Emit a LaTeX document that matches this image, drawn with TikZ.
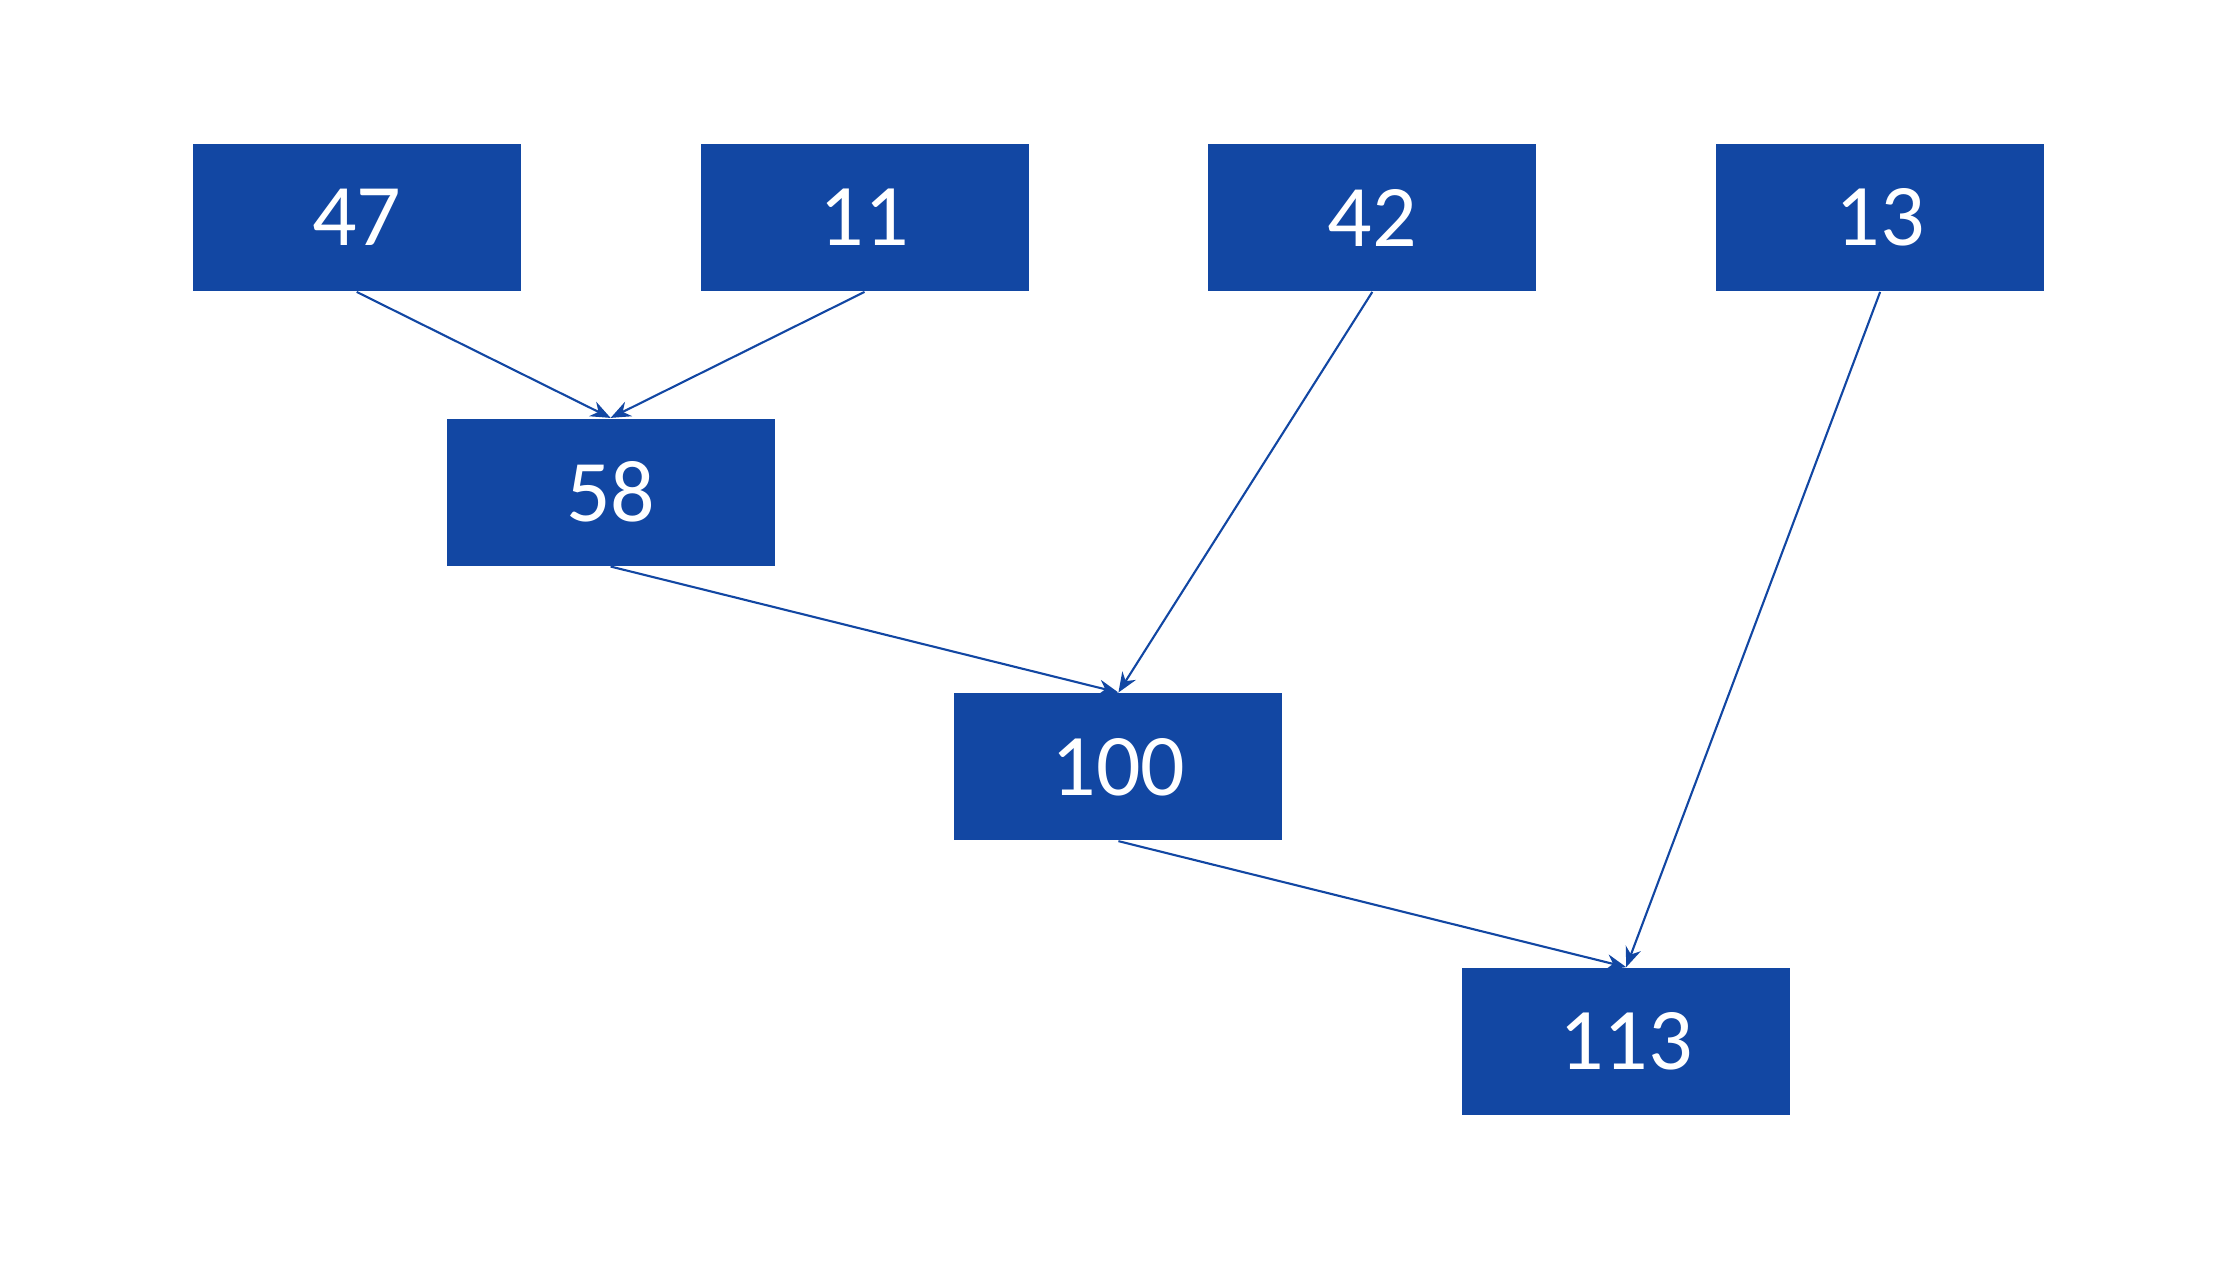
\documentclass[tikz,border=0pt]{standalone}
\usepackage{fontspec}
\setmainfont{Carlito}
\usetikzlibrary{arrows.meta}
\definecolor{boxblue}{RGB}{18,71,163}

\tikzstyle{box} = [rectangle, minimum width=3.28cm, minimum height=1.472cm, text centered, fill=boxblue, text=white, font=\fontsize{25}{30}\selectfont]
\tikzstyle{arrow} = [line width=0.6pt, draw=boxblue, ->, >={Stealth[length=2mm,width=1.6mm]}]

\begin{document}
\begin{tikzpicture}[node distance=2.746cm]
\useasboundingbox (0,0) rectangle (22.38,-12.6);
% leaves
\node (n47) [box] at (3.567,-2.176) {47};
\node (n11) [box, right of=n47, xshift=2.332cm] {11};
\node (n42) [box, right of=n11, xshift=2.332cm] {42};
\node (n13) [box, right of=n42, xshift=2.332cm] {13};

% sums
\node (n58) [box, below of=n47, xshift=2.539cm] {58};
\node (n100) [box, below of=n58, xshift=5.078cm] {100};
\node (n113) [box, below of=n100, xshift=5.078cm] {113};

\draw [arrow] (n47.south) -- (n58.north);
\draw [arrow] (n11.south) -- (n58.north);
\draw [arrow] (n58.south) -- (n100.north);
\draw [arrow] (n42.south) -- (n100.north);
\draw [arrow] (n100.south) -- (n113.north);
\draw [arrow] (n13.south) -- (n113.north);
\end{tikzpicture}
\end{document}
